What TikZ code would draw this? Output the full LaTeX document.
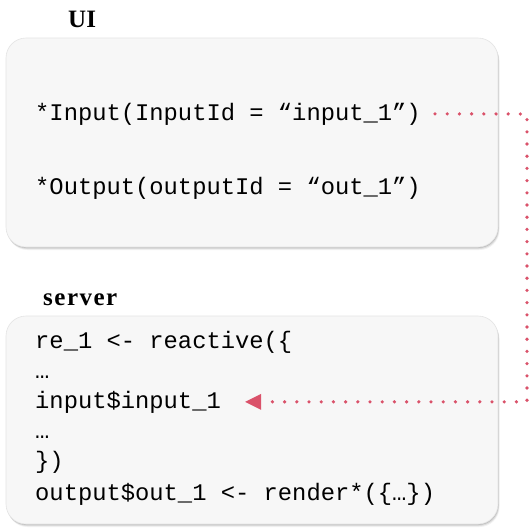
\documentclass[tikz,border=0pt]{standalone}
\usepackage{fontspec}
\setmainfont{Liberation Serif}
\setmonofont{Liberation Mono}
\usetikzlibrary{arrows.meta}
\definecolor{linkred}{RGB}{218,82,106}
\definecolor{panel}{RGB}{247,247,247}
\definecolor{panelline}{RGB}{228,228,228}
\begin{document}
\begin{tikzpicture}[x=1pt,y=-1pt,
  panelbox/.style={draw=panelline, line width=0.6pt, fill=panel,
    rounded corners=20pt, minimum width=492pt, minimum height=#1,
    inner sep=0pt, outer sep=0pt,
    preaction={fill=black, opacity=0.05, transform canvas={shift={(1.5pt,-3pt)}}},
    preaction={fill=black, opacity=0.09, transform canvas={shift={(1pt,-2pt)}}},
    preaction={fill=black, opacity=0.12, transform canvas={shift={(0.5pt,-1pt)}}}},
  code/.style={anchor=base west, inner sep=0pt,
    font=\ttfamily\fontsize{23.8}{28}\selectfont, text=black},
  heading/.style={anchor=base west, inner sep=0pt,
    font=\bfseries\fontsize{25}{30}\selectfont},
  link/.style={draw=linkred, line width=3.6pt, line cap=round,
    dash pattern=on 0pt off 12.2pt}]
\useasboundingbox (0,0) rectangle (531,531);
\fill[white] (0,0) rectangle (531,531);

% panels
\node[panelbox=209pt] (ui) at (252,142.5) {};
\node[panelbox=208pt] (srv) at (252,420) {};

% headings
\node[heading] (uilabel) at (68,27) {UI};
\node[heading] (srvlabel) at (43,305) {\addfontfeature{LetterSpace=6}server};

% UI code
\node[code] (in1) at (35,120) {*Input(InputId = “input\_1”)};
\node[code] (out1) at (35,194) {*Output(outputId = “out\_1”)};

% server code
\node[code] (l1) at (35,348) {re\_1 <- reactive(\{};
\node[code] (l2) at (35,378) {…};
\node[code] (srvin) at (35,408) {input\$input\_1};
\node[code] (l4) at (35,438) {…};
\node[code] (l5) at (35,468) {\})};
\node[code] (l6) at (35,500) {output\$out\_1 <- render*(\{…\})};

% link from the input widget to its use on the server
\coordinate (bend) at (527,114);
\draw[link, -{Triangle[length=16pt,width=16pt,line width=0pt,fill=linkred]}]
  ([xshift=14pt]in1.east) -- (bend) |- ([xshift=24pt]srvin.east);
\end{tikzpicture}
\end{document}
